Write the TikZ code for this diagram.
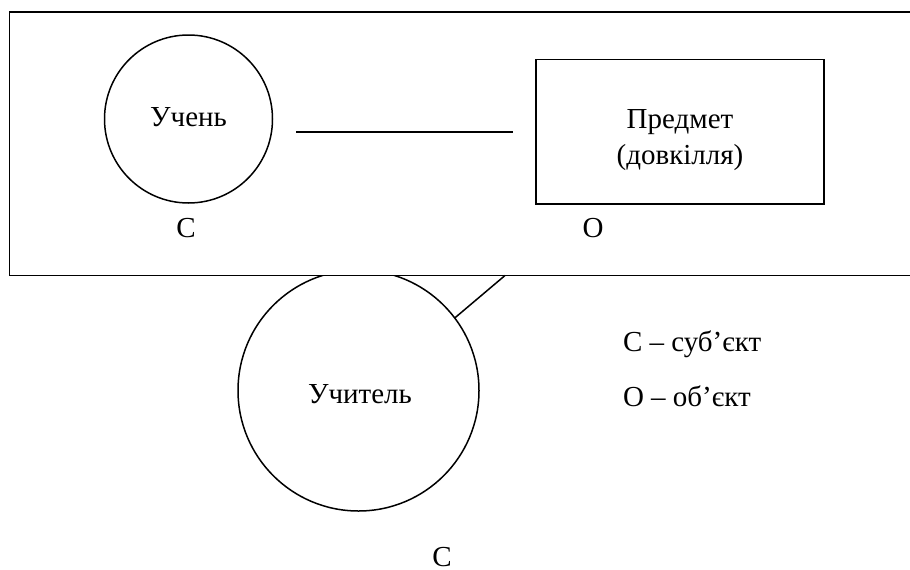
\documentclass[tikz,border=0pt]{standalone}
\usepackage{fontspec}
\setmainfont{Liberation Serif}
\begin{document}
\begin{tikzpicture}[x=1pt,y=-1pt,line width=1.5pt,
  every node/.style={font=\fontsize{29}{36}\selectfont,inner sep=0pt,outer sep=0pt},
  ring/.style={draw,circle,fill=white},
  boxshape/.style={draw,rectangle,fill=white},
  lbl/.style={anchor=base},
  legend/.style={anchor=base west}]
\clip (0,0) rectangle (910,570);
\fill[white] (0,0) rectangle (910,570);
% teacher circle (partly hidden behind the frame)
\node[ring,minimum size=241pt] (teacher) at (358.5,390.5) {};
\node[lbl] (teachertxt) at (360,403) {Учитель};
% outer frame
\node[boxshape,minimum width=915.5pt,minimum height=263.5pt] (frame) at (467.25,143.75) {};
% pupil
\node[ring,minimum size=168pt] (pupil) at (188.5,119) {};
\node[lbl] (pupiltxt) at (188.5,126) {Учень};
% line between pupil and subject
\coordinate (l1) at (296,132);
\coordinate (l2) at (513,132);
\draw (l1) -- (l2);
% subject box
\node[boxshape,minimum width=288pt,minimum height=144.5pt] (subj) at (680,131.75) {};
\node[lbl,align=center] (subjtxt) at (680,164) {Предмет\\(довкілля)};
% labels
\node[lbl] (cpupil) at (186,237) {С};
\node[lbl] (osubj) at (593,237) {О};
\node[lbl] (cteacher) at (442,566.5) {С};
% connector teacher -> frame
\coordinate (fb) at (505,275.5);
\draw (teacher.37) -- (fb);
% legend
\node[legend] (leg1) at (623,351.5) {С – суб’єкт};
\node[legend] (leg2) at (623,406.5) {О – об’єкт};
\end{tikzpicture}
\end{document}
